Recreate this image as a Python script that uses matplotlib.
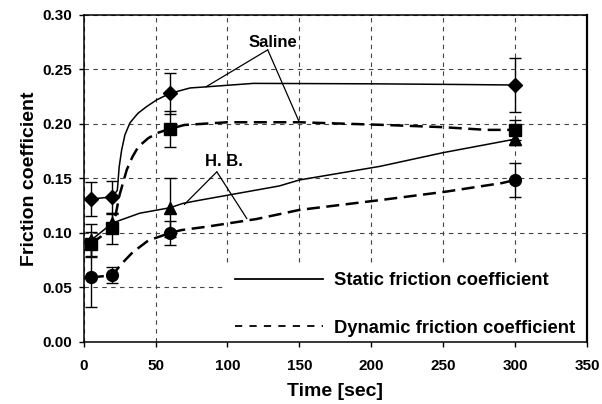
import numpy as np
import matplotlib
matplotlib.use('Agg')
import matplotlib.pyplot as plt
from matplotlib.lines import Line2D
from matplotlib.patches import Rectangle

plt.rcParams['font.family'] = ['Liberation Sans', 'DejaVu Sans']
plt.rcParams['font.weight'] = 'bold'

# Measurement times [sec]
t = [5, 20, 60, 300]

# Mean friction coefficients and error bars
saline_static = [0.131, 0.133, 0.228, 0.2357]
saline_static_err = [0.016, 0.015, 0.019, 0.0245]
saline_dynamic = [0.090, 0.104, 0.1955, 0.1945]
saline_dynamic_err = [0.011, 0.0145, 0.0165, 0.009]
hb_static = [0.093, 0.109, 0.123, 0.186]
hb_static_err = [0.015, 0.008, 0.027, 0.005]
hb_dynamic = [0.059, 0.061, 0.0998, 0.1485]
hb_dynamic_err = [0.027, 0.0075, 0.011, 0.0155]

# Smoothed trend curves
ss_curve_t = [5, 20, 23.4, 24.7, 26.4, 28.7, 32.2, 37.7, 43.7, 50.7, 60, 74, 85, 118, 200, 260, 300]
ss_curve_y = [0.131, 0.133, 0.139, 0.1607, 0.176, 0.190, 0.201, 0.2097, 0.2158, 0.222, 0.228, 0.233, 0.234, 0.2372, 0.2368, 0.2362, 0.2357]
sd_curve_t = [5, 20, 22, 25, 30, 34, 38, 45, 52, 60, 70, 100, 150, 210, 250, 280, 300]
sd_curve_y = [0.090, 0.104, 0.115, 0.135, 0.158, 0.170, 0.179, 0.187, 0.192, 0.1955, 0.199, 0.2015, 0.2015, 0.199, 0.197, 0.1945, 0.1945]
hs_curve_t = [5, 20, 39, 60, 69, 81, 136, 150, 206, 220, 250, 300]
hs_curve_y = [0.093, 0.109, 0.118, 0.123, 0.127, 0.130, 0.143, 0.1485, 0.161, 0.165, 0.1736, 0.186]
hd_curve_t = [5, 20, 26, 34, 45, 60, 68, 85, 120, 150, 206, 252, 291, 300]
hd_curve_y = [0.059, 0.061, 0.071, 0.082, 0.093, 0.0998, 0.1025, 0.1055, 0.1126, 0.121, 0.130, 0.1378, 0.1457, 0.1485]

# Labels with leader lines
saline_label = (131.5, 0.2745)
saline_apex = (128, 0.268)
saline_targets = [(85, 0.234), (150, 0.2015)]
hb_label = (97.2, 0.1655)
hb_apex = (92.6, 0.156)
hb_targets = [(70, 0.126), (113.5, 0.113)]

fig = plt.figure(figsize=(6.02, 4.04), dpi=100)
ax = fig.add_axes([0.139, 0.1542, 0.836, 0.8087])

curve_dash = (5.2, 2.6)
ax.plot(ss_curve_t, ss_curve_y, '-', color='black', lw=1.1)
ax.plot(sd_curve_t, sd_curve_y, '--', color='black', lw=1.8, dashes=curve_dash)
ax.plot(hs_curve_t, hs_curve_y, '-', color='black', lw=1.1)
ax.plot(hd_curve_t, hd_curve_y, '--', color='black', lw=1.8, dashes=curve_dash)

eb = dict(color='black', ls='none', capsize=4, elinewidth=1, capthick=1)
ax.errorbar(t, saline_static, yerr=saline_static_err, marker='D', ms=7.5, **eb)
ax.errorbar(t, saline_dynamic, yerr=saline_dynamic_err, marker='s', ms=8, **eb)
ax.errorbar(t, hb_static, yerr=hb_static_err, marker='^', ms=9, **eb)
ax.errorbar(t, hb_dynamic, yerr=hb_dynamic_err, marker='o', ms=8.5, **eb)

ax.text(*saline_label, 'Saline', ha='center', va='center', fontsize=12, fontweight='bold')
for p in saline_targets:
    ax.annotate('', xy=p, xytext=saline_apex,
                arrowprops=dict(arrowstyle='-', lw=0.9, color='black', shrinkA=0, shrinkB=0))
ax.text(*hb_label, 'H. B.', ha='center', va='center', fontsize=12, fontweight='bold')
for p in hb_targets:
    ax.annotate('', xy=p, xytext=hb_apex,
                arrowprops=dict(arrowstyle='-', lw=0.9, color='black', shrinkA=0, shrinkB=0))

ax.set_xlim(0, 350)
ax.set_ylim(0, 0.30)
ax.set_xticks(np.arange(0, 351, 50))
ax.set_yticks(np.arange(0, 0.301, 0.05))
ax.set_yticklabels(['%.2f' % v for v in np.arange(0, 0.301, 0.05)])
ax.tick_params(direction='out', length=3.6, width=1, labelsize=11, pad=5)
ax.tick_params(axis='x', pad=9)
ax.grid(True, color='#444444', ls=(0, (4, 4)), lw=0.8)
ax.set_axisbelow(True)
for s in ax.spines.values():
    s.set_linewidth(1.1)
ax.spines['right'].set_linewidth(1.6)

ax.set_xlabel('Time [sec]', fontsize=14, fontweight='bold', labelpad=7)
ax.set_ylabel('Friction coefficient', fontsize=14, fontweight='bold', labelpad=3)

# white area behind the legend hides the grid
ax.add_patch(Rectangle((0.283, 0), 0.717, 0.232, transform=ax.transAxes,
                       facecolor='white', edgecolor='none', zorder=1.5))

handles = [Line2D([], [], color='black', lw=1.3, ls='-'),
           Line2D([], [], color='black', lw=1.3, ls=(0, (4, 4)))]
leg = ax.legend(handles, ['Static friction coefficient', 'Dynamic friction coefficient'],
                loc='center left', bbox_to_anchor=(0.3006, 0.114), borderaxespad=0,
                fontsize=13.2, handlelength=4.8, handletextpad=0.6, labelspacing=1.66,
                borderpad=0, frameon=False)
leg.set_zorder(5)

fig.savefig('out.png', dpi=100)
